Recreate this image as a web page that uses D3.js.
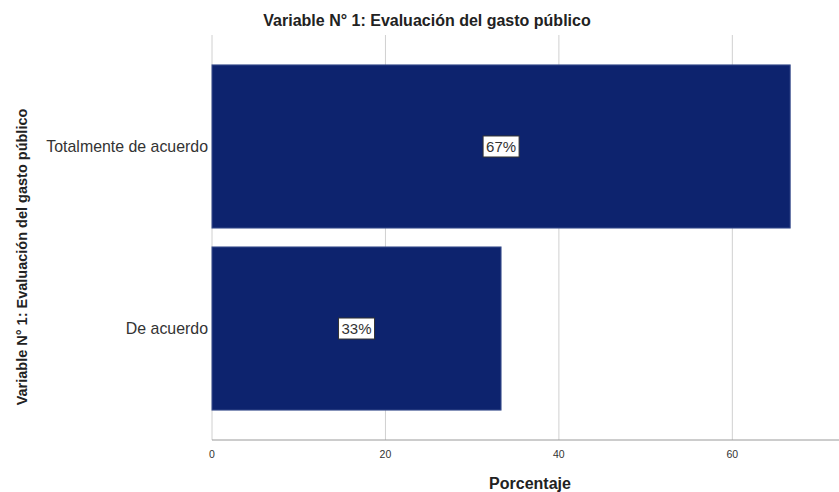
<!DOCTYPE html>
<html><head><meta charset="utf-8">
<script src="https://cdn.jsdelivr.net/npm/d3@7"></script>
<style>body{margin:0;background:#fff}svg{display:block}text{font-family:"Liberation Sans",Arial,sans-serif}</style>
</head><body>
<svg id="c" width="839" height="492"></svg>
<script>
const categories = ["Totalmente de acuerdo", "De acuerdo"];
const values = [66.67, 33.33];
const labels = ["67%", "33%"];
const ticks = [0, 20, 40, 60];
const title = "Variable N° 1: Evaluación del gasto público";
const xTitle = "Porcentaje";
const yTitle = "Variable N° 1: Evaluación del gasto público";

const svg = d3.select("#c");
const x0 = 212, x1 = 839, yTop = 35, yBot = 440;
const x = d3.scaleLinear().domain([0, 72.3]).range([x0, x1]);
const y = d3.scaleBand().domain(categories).range([46, 429]).paddingInner(0.104).paddingOuter(0.104);

svg.append("g").selectAll("line").data(ticks).join("line")
  .attr("x1", d => x(d)).attr("x2", d => x(d)).attr("y1", yTop).attr("y2", yBot)
  .attr("stroke", "#d0d0d0").attr("stroke-width", 1);

svg.append("line").attr("x1", x0).attr("x2", x1).attr("y1", yBot).attr("y2", yBot)
  .attr("stroke", "#9a9a9a").attr("stroke-width", 1);

svg.append("g").selectAll("text").data(ticks).join("text")
  .attr("x", d => x(d)).attr("y", 458).attr("text-anchor", "middle")
  .attr("font-size", 10.5).attr("fill", "#333").text(d => d);

svg.append("g").selectAll("rect").data(values).join("rect")
  .attr("x", x(0)).attr("y", (d, i) => y(categories[i]))
  .attr("width", d => x(d) - x(0)).attr("height", y.bandwidth())
  .attr("fill", "#0d236e").attr("stroke", "#3a4f8e").attr("stroke-width", 1);

const lg = svg.append("g").selectAll("g").data(values).join("g")
  .attr("transform", (d, i) => `translate(${(x(0) + x(d)) / 2},${y(categories[i]) + y.bandwidth() / 2})`);
lg.append("rect").attr("x", -18).attr("y", -10.5).attr("width", 36).attr("height", 21)
  .attr("fill", "#fff").attr("stroke", "#333").attr("stroke-width", 1);
lg.append("text").attr("text-anchor", "middle").attr("dy", "0.36em")
  .attr("font-size", 15).attr("fill", "#333").text((d, i) => labels[i]);

svg.append("g").selectAll("text").data(categories).join("text")
  .attr("x", 208).attr("y", d => y(d) + y.bandwidth() / 2).attr("dy", "0.36em")
  .attr("text-anchor", "end").attr("font-size", 15.9).attr("fill", "#333").text(d => d);

svg.append("text").attr("x", 427).attr("y", 26).attr("text-anchor", "middle")
  .attr("font-size", 16).attr("font-weight", "bold").attr("fill", "#222").text(title);
svg.append("text").attr("x", 530).attr("y", 489).attr("text-anchor", "middle")
  .attr("font-size", 16).attr("font-weight", "bold").attr("fill", "#222").text(xTitle);
svg.append("text").attr("transform", "translate(27,257) rotate(-90)").attr("text-anchor", "middle")
  .attr("font-size", 14.5).attr("font-weight", "bold").attr("fill", "#222").text(yTitle);
</script>
</body></html>
